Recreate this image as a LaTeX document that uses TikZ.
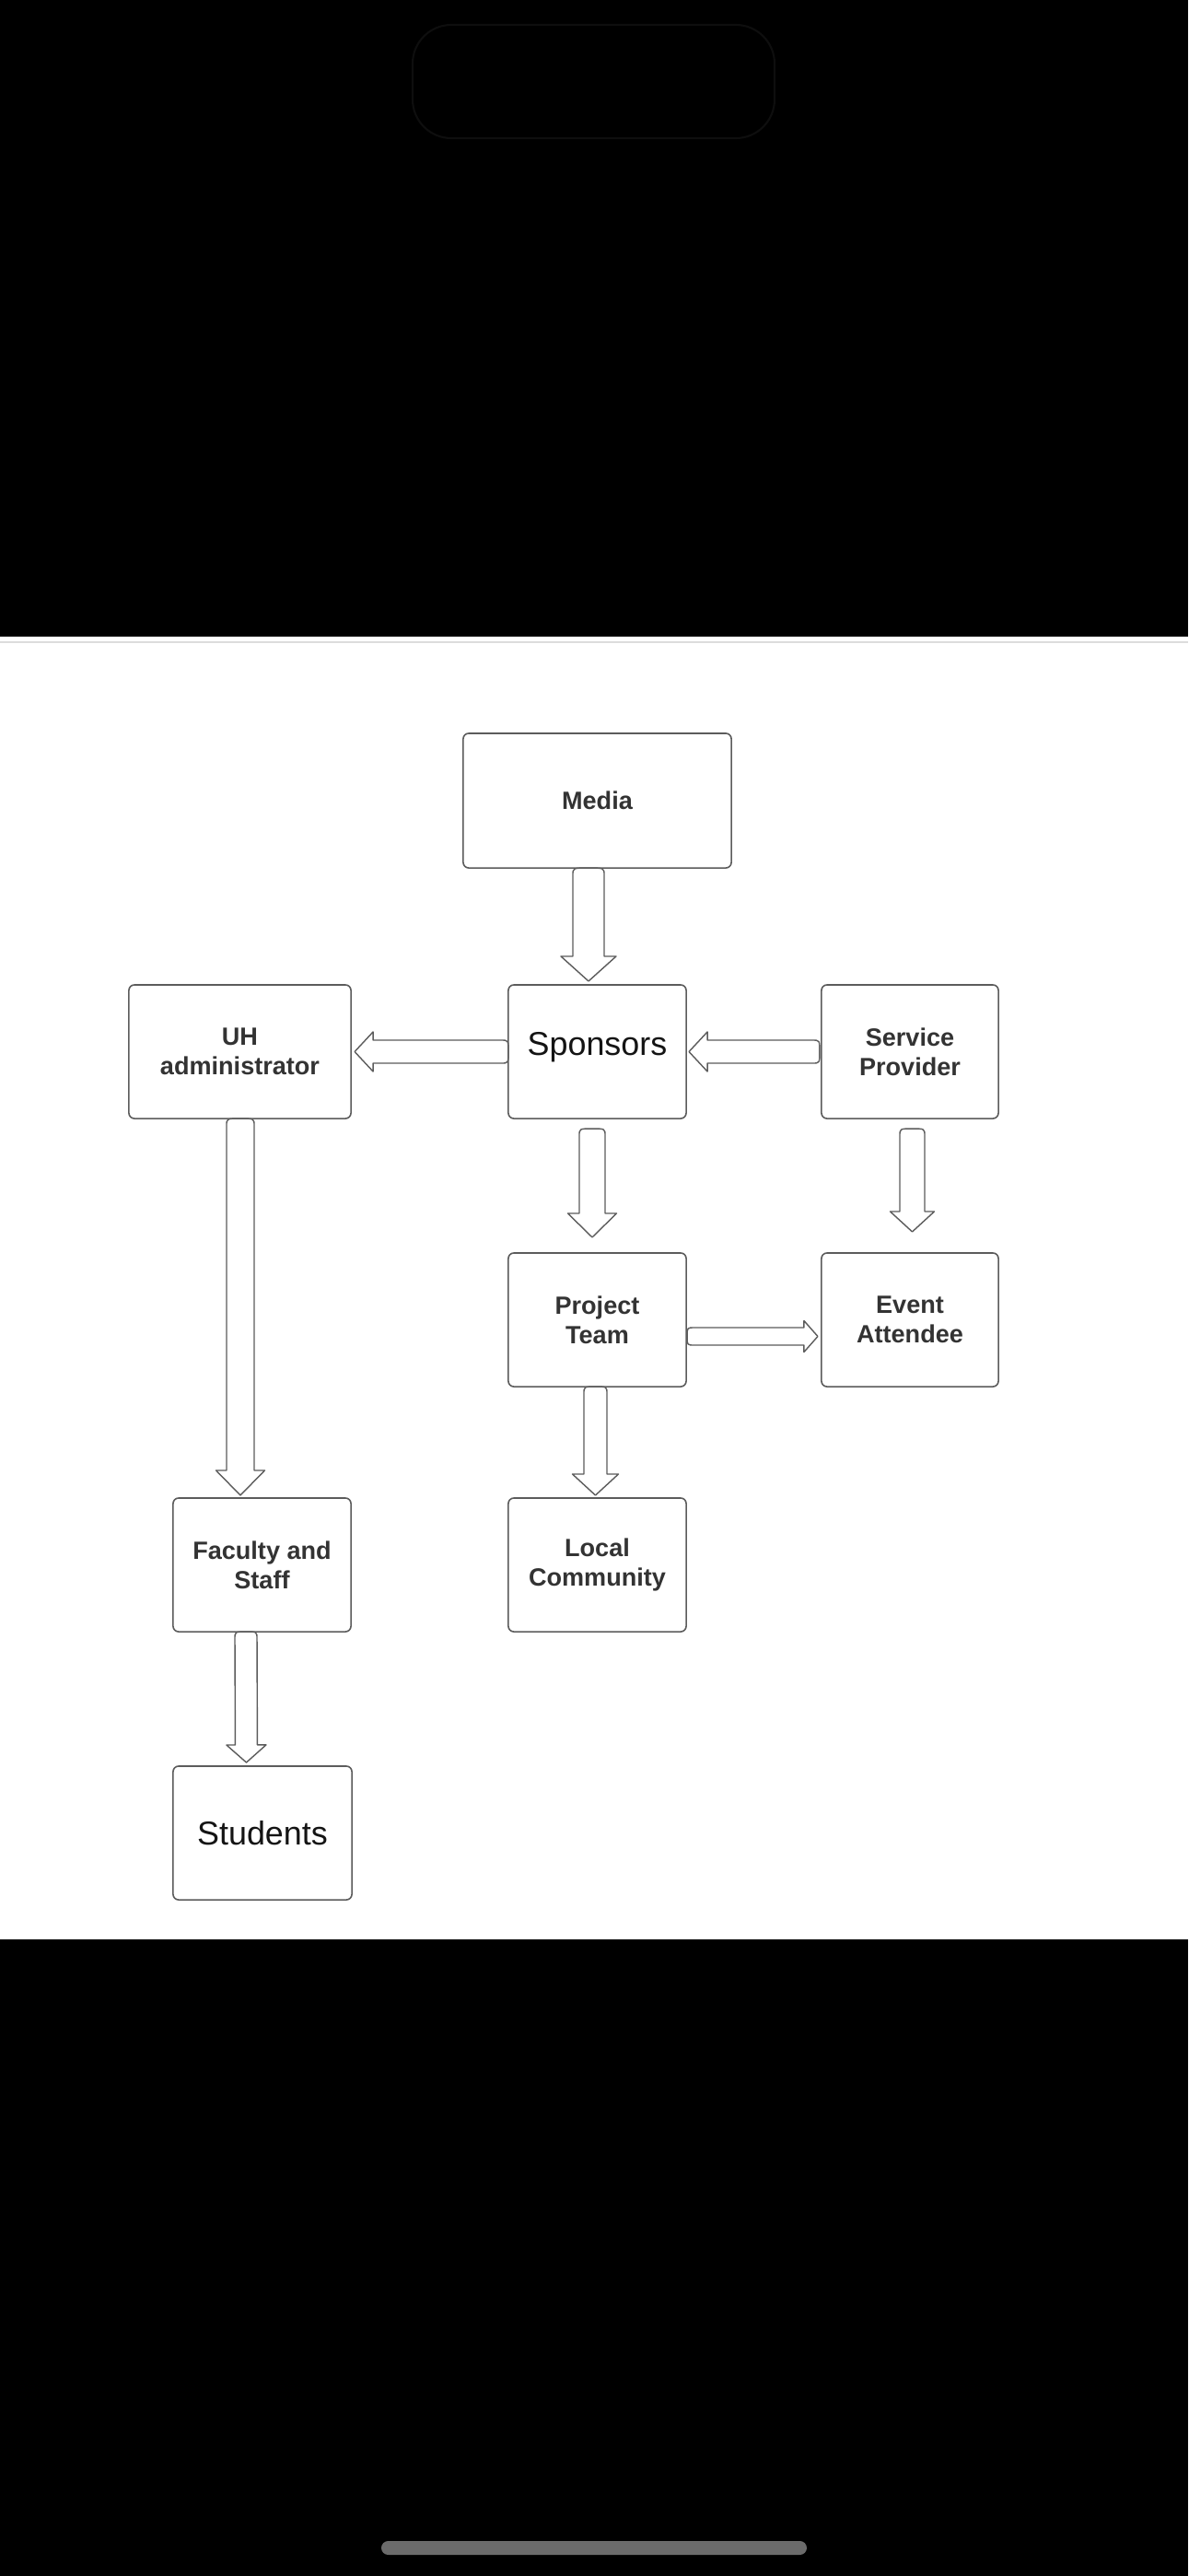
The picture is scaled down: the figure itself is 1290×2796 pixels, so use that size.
\documentclass[tikz,border=0pt]{standalone}
\usepackage{fontspec}
\setmainfont{Liberation Sans}
\usetikzlibrary{calc}
\usepackage{xcolor}
\definecolor{boxgray}{HTML}{5C5C5C}
\definecolor{labelgray}{HTML}{333333}
\definecolor{notchgray}{HTML}{0E0E0E}
\definecolor{bargray}{HTML}{6B6B6B}
\definecolor{rulegray}{HTML}{DCDCDC}

\newcommand{\fatarrow}[5]{%
 \coordinate (fa) at (#1);
 \coordinate (fb) at (#2);
 \coordinate (fn) at ($(fb)!#5!(fa)$);
 \coordinate (fc) at ($(fa)!0.08cm!(fb)$);
 \draw[fatline] ($(fc)!#3!-90:(fb)$) -- ($(fn)!#3!-90:(fb)$) -- ($(fn)!#4!-90:(fb)$) -- (fb) -- ($(fn)!#4!90:(fb)$) -- ($(fn)!#3!90:(fb)$) -- ($(fc)!#3!90:(fb)$) .. controls ($(fa)!#3!90:(fb)$) .. (fa) .. controls ($(fa)!#3!-90:(fb)$) .. ($(fc)!#3!-90:(fb)$) -- cycle;
}

\begin{document}
\begin{tikzpicture}[x=0.01cm, y=-0.01cm,
 stakebox/.style={draw=boxgray, fill=white, line width=0.45pt, rounded corners=0.06cm, inner sep=0, outer sep=0, minimum height=1.45cm, minimum width=1.93cm, align=center, text=labelgray, font=\fontsize{7.7}{9.1}\selectfont\bfseries},
 bigbox/.style={stakebox, text=black!92, font=\fontsize{10.2}{12}\selectfont},
 fatline/.style={draw=boxgray, fill=white, line width=0.4pt, line join=round}]
\useasboundingbox (0,0) rectangle (1290,2796);
\fill[black] (0,0) rectangle (1290,2796);
\fill[white] (0,691) rectangle (1290,2105);
\draw[rulegray, line width=0.55pt] (0,697) -- (1290,697);
\draw[notchgray, line width=0.6pt, rounded corners=0.42cm] (448,27) rectangle (841,150);
\fill[bargray, rounded corners=0.075cm] (414,2758) rectangle (876,2773);

\node[stakebox, minimum width=2.91cm, minimum height=1.46cm] (media) at (648.5,869) {Media};
\node[stakebox, minimum width=2.41cm] (uh) at (260.5,1141.5) {UH\\administrator};
\node[bigbox, text depth=0.17cm] (sponsors) at (648.5,1141.5) {Sponsors};
\node[stakebox, minimum width=1.92cm] (provider) at (988,1141.5) {Service\\Provider};
\node[stakebox] (project) at (648.5,1432.5) {Project\\Team};
\node[stakebox, minimum width=1.92cm] (attendee) at (988,1432.5) {Event\\Attendee};
\node[stakebox] (faculty) at (284.5,1698.5) {Faculty and\\Staff};
\node[stakebox] (local) at (648.5,1698.5) {Local\\Community};
\node[bigbox, minimum width=1.94cm] (students) at (285,1989.5) {Students};

\fatarrow{$(media.south)+(-9.5,0)$}{$(sponsors.north)+(-9.5,-4)$}{0.17cm}{0.30cm}{0.27cm}
\fatarrow{sponsors.west}{$(uh.east)+(4,0)$}{0.125cm}{0.215cm}{0.20cm}
\fatarrow{$(provider.west)+(-2,0)$}{$(sponsors.east)+(3,0)$}{0.125cm}{0.215cm}{0.20cm}
\fatarrow{$(sponsors.south)+(-5.5,11)$}{$(project.north)+(-5.5,-17)$}{0.14cm}{0.265cm}{0.26cm}
\fatarrow{$(provider.south)+(2.5,11)$}{$(attendee.north)+(2.5,-23)$}{0.135cm}{0.24cm}{0.22cm}
\fatarrow{$(project.east)+(1,18)$}{$(attendee.west)+(-4,18)$}{0.095cm}{0.17cm}{0.15cm}
\fatarrow{$(project.south)+(-2,0)$}{$(local.north)+(-2,-3)$}{0.125cm}{0.25cm}{0.23cm}
\fatarrow{$(uh.south)+(0.5,0)$}{$(faculty.north)+(-23.5,-3)$}{0.15cm}{0.265cm}{0.27cm}
\fatarrow{$(faculty.south)+(-17.5,0)$}{$(students.north)+(-17.5,-4)$}{0.12cm}{0.215cm}{0.19cm}
\end{tikzpicture}
\end{document}
